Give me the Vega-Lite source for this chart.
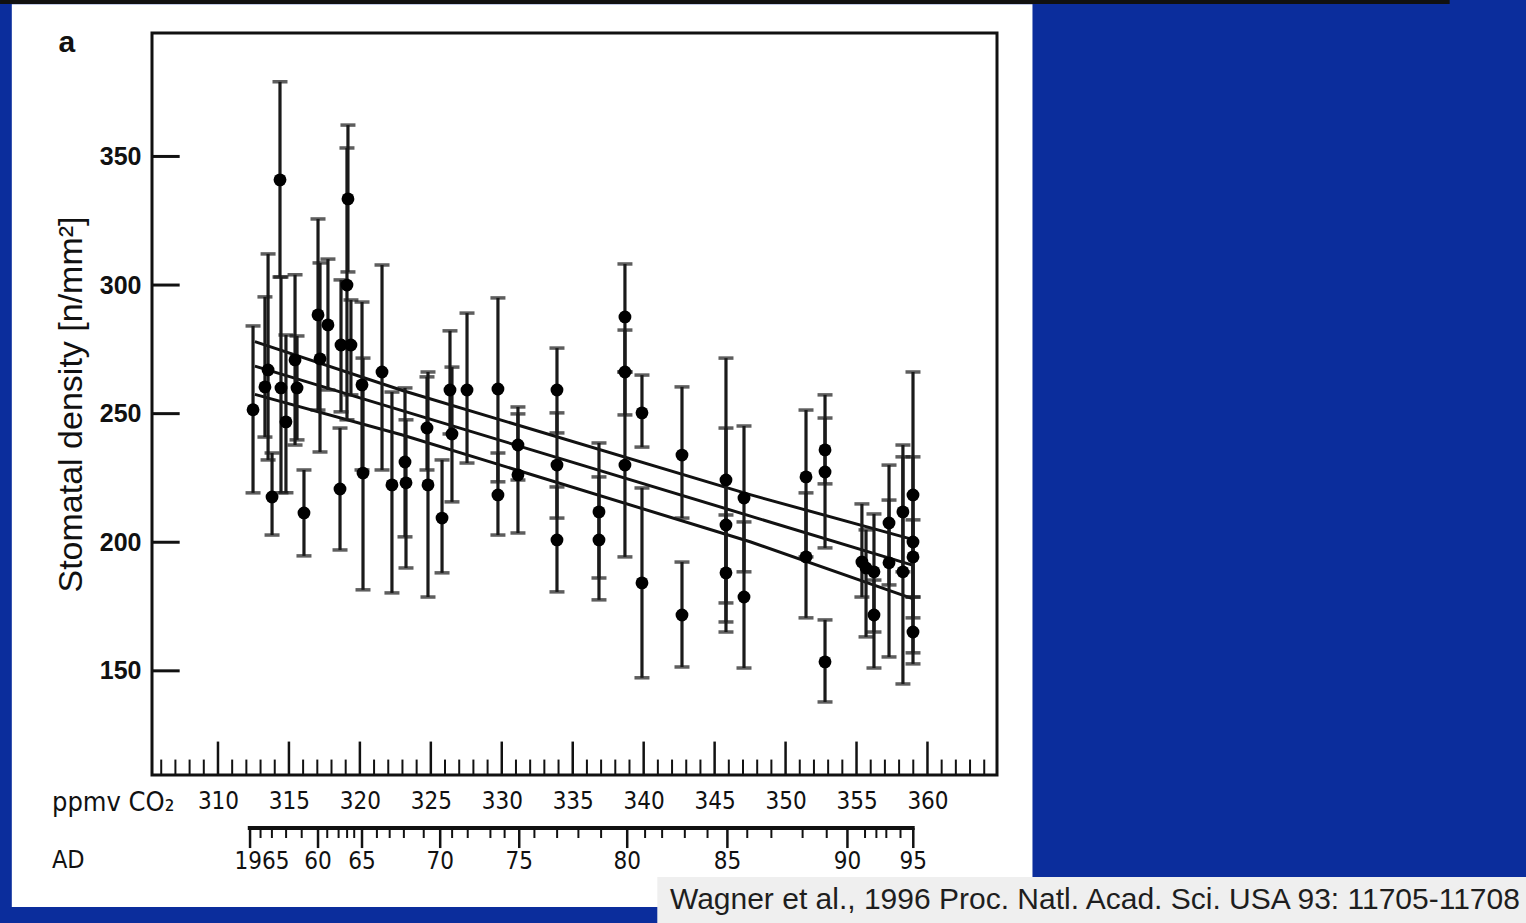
{
  "$schema": "https://vega.github.io/schema/vega-lite/v6.json",
  "width": 845,
  "height": 742,
  "autosize": {"type": "none"},
  "padding": {"left": 152, "top": 33, "right": 529, "bottom": 148},
  "background": "#0b2d9c",
  "config": {
    "view": {"stroke": null},
    "axis": {"grid": false, "ticks": false, "domain": false, "labelColor": "#111111", "labelFlush": false, "titleColor": "#111111"},
    "axisX": {"labelPadding": 14, "labelFontSize": 24, "labelFont": "Liberation Sans Narrow, DejaVu Sans Condensed, sans-serif"},
    "axisY": {"labelPadding": 11, "labelFontSize": 25, "labelFontWeight": "bold", "labelFont": "Liberation Sans", "titleFont": "Liberation Sans", "titleFontSize": 34, "titleFontWeight": "normal", "titlePadding": 11}
  },
  "datasets": {
    "points": [
      {"co2":312.47,"density":251.5,"low":219.2,"high":284.1},
      {"co2":313.31,"density":260.4,"low":240.9,"high":295.4},
      {"co2":313.53,"density":267.0,"low":232.0,"high":312.1},
      {"co2":313.81,"density":217.6,"low":202.8,"high":234.7},
      {"co2":314.37,"density":340.9,"low":303.1,"high":379.0},
      {"co2":314.44,"density":260.0,"low":219.2,"high":303.1},
      {"co2":314.79,"density":246.8,"low":219.2,"high":280.6},
      {"co2":315.43,"density":270.9,"low":237.8,"high":304.0},
      {"co2":315.57,"density":260.0,"low":239.8,"high":280.2},
      {"co2":316.06,"density":211.4,"low":194.7,"high":228.1},
      {"co2":317.05,"density":288.4,"low":251.4,"high":325.7},
      {"co2":317.19,"density":271.3,"low":235.1,"high":308.6},
      {"co2":317.75,"density":284.5,"low":259.2,"high":310.1},
      {"co2":318.60,"density":220.7,"low":197.0,"high":244.4},
      {"co2":319.16,"density":333.5,"low":305.1,"high":362.2},
      {"co2":319.09,"density":300.0,"low":247.6,"high":353.3},
      {"co2":318.67,"density":276.7,"low":250.7,"high":302.0},
      {"co2":319.37,"density":276.7,"low":257.3,"high":294.2},
      {"co2":320.15,"density":261.2,"low":228.1,"high":293.4},
      {"co2":320.22,"density":226.9,"low":181.5,"high":271.6},
      {"co2":321.56,"density":266.2,"low":228.1,"high":307.8},
      {"co2":322.26,"density":222.3,"low":180.3,"high":258.4},
      {"co2":323.18,"density":231.2,"low":202.1,"high":260.0},
      {"co2":323.25,"density":223.1,"low":190.0,"high":247.6},
      {"co2":324.73,"density":244.4,"low":228.1,"high":264.3},
      {"co2":324.80,"density":222.3,"low":178.7,"high":266.2},
      {"co2":325.79,"density":209.4,"low":188.1,"high":232.0},
      {"co2":326.35,"density":259.2,"low":242.1,"high":282.2},
      {"co2":326.49,"density":242.1,"low":215.7,"high":268.1},
      {"co2":327.55,"density":259.2,"low":230.8,"high":289.1},
      {"co2":329.73,"density":259.6,"low":223.5,"high":295.0},
      {"co2":329.73,"density":218.4,"low":202.8,"high":234.7},
      {"co2":331.14,"density":237.8,"low":224.2,"high":252.6},
      {"co2":331.14,"density":226.2,"low":203.6,"high":249.9},
      {"co2":333.89,"density":259.2,"low":242.5,"high":275.5},
      {"co2":333.89,"density":230.0,"low":209.4,"high":250.3},
      {"co2":333.89,"density":200.9,"low":180.7,"high":221.5},
      {"co2":336.85,"density":211.8,"low":186.1,"high":238.6},
      {"co2":336.85,"density":200.9,"low":177.6,"high":225.4},
      {"co2":338.68,"density":287.6,"low":266.2,"high":308.2},
      {"co2":338.68,"density":266.2,"low":249.5,"high":282.5},
      {"co2":338.68,"density":230.0,"low":194.3,"high":266.2},
      {"co2":339.88,"density":250.3,"low":237.0,"high":265.0},
      {"co2":339.88,"density":184.2,"low":147.3,"high":221.1},
      {"co2":342.70,"density":233.9,"low":209.4,"high":260.4},
      {"co2":342.70,"density":171.7,"low":151.5,"high":192.3},
      {"co2":345.80,"density":224.2,"low":176.4,"high":271.6},
      {"co2":345.80,"density":206.7,"low":169.0,"high":244.4},
      {"co2":345.80,"density":188.1,"low":165.1,"high":210.6},
      {"co2":347.07,"density":217.2,"low":188.5,"high":245.2},
      {"co2":347.07,"density":178.7,"low":151.1,"high":207.9},
      {"co2":351.44,"density":225.4,"low":194.3,"high":251.4},
      {"co2":351.44,"density":194.3,"low":170.6,"high":219.2},
      {"co2":352.78,"density":235.9,"low":222.7,"high":257.3},
      {"co2":352.78,"density":227.3,"low":197.8,"high":248.3},
      {"co2":352.78,"density":153.5,"low":137.9,"high":169.8},
      {"co2":355.38,"density":192.3,"low":178.7,"high":214.9},
      {"co2":355.67,"density":190.0,"low":163.2,"high":204.8},
      {"co2":356.23,"density":188.5,"low":165.1,"high":211.0},
      {"co2":356.23,"density":171.7,"low":151.1,"high":185.3},
      {"co2":357.29,"density":207.5,"low":183.4,"high":230.0},
      {"co2":357.29,"density":192.0,"low":155.4,"high":216.4},
      {"co2":358.27,"density":211.8,"low":188.5,"high":237.8},
      {"co2":358.27,"density":188.5,"low":144.9,"high":233.2},
      {"co2":358.98,"density":218.4,"low":170.6,"high":266.2},
      {"co2":358.98,"density":200.1,"low":157.0,"high":233.2},
      {"co2":358.98,"density":194.3,"low":178.7,"high":208.7},
      {"co2":358.98,"density":165.1,"low":152.7,"high":178.7}
    ],
    "lines": [
      {"line":"upper","co2":312.6,"density":278.0},
      {"line":"upper","co2":323.0,"density":259.0},
      {"line":"upper","co2":347.5,"density":218.5},
      {"line":"upper","co2":359.0,"density":201.0},
      {"line":"fit","co2":312.6,"density":268.5},
      {"line":"fit","co2":359.0,"density":191.0},
      {"line":"lower","co2":312.6,"density":257.5},
      {"line":"lower","co2":323.0,"density":241.7},
      {"line":"lower","co2":347.5,"density":200.2},
      {"line":"lower","co2":359.0,"density":178.0}
    ],
    "xmajor": [{"co2":310},{"co2":315},{"co2":320},{"co2":325},{"co2":330},{"co2":335},{"co2":340},{"co2":345},{"co2":350},{"co2":355},{"co2":360}],
    "xminor": [{"co2":306},{"co2":307},{"co2":308},{"co2":309},{"co2":311},{"co2":312},{"co2":313},{"co2":314},{"co2":316},{"co2":317},{"co2":318},{"co2":319},{"co2":321},{"co2":322},{"co2":323},{"co2":324},{"co2":326},{"co2":327},{"co2":328},{"co2":329},{"co2":331},{"co2":332},{"co2":333},{"co2":334},{"co2":336},{"co2":337},{"co2":338},{"co2":339},{"co2":341},{"co2":342},{"co2":343},{"co2":344},{"co2":346},{"co2":347},{"co2":348},{"co2":349},{"co2":351},{"co2":352},{"co2":353},{"co2":354},{"co2":356},{"co2":357},{"co2":358},{"co2":359},{"co2":361},{"co2":362},{"co2":363},{"co2":364}],
    "yticks": [{"density":150},{"density":200},{"density":250},{"density":300},{"density":350}],
    "admajor": [{"year":1955,"co2":312.26},{"year":1960,"co2":317.05},{"year":1965,"co2":320.15},{"year":1970,"co2":325.66},{"year":1975,"co2":331.23},{"year":1980,"co2":338.84},{"year":1985,"co2":345.9},{"year":1990,"co2":354.36},{"year":1995,"co2":359.0}],
    "adminor": [{"year":1956,"co2":313.0},{"year":1957,"co2":313.8},{"year":1958,"co2":314.8},{"year":1959,"co2":315.9},{"year":1961,"co2":317.7},{"year":1962,"co2":318.5},{"year":1963,"co2":319.1},{"year":1964,"co2":319.6},{"year":1966,"co2":321.2},{"year":1967,"co2":322.1},{"year":1968,"co2":323.1},{"year":1969,"co2":324.5},{"year":1971,"co2":326.5},{"year":1972,"co2":327.6},{"year":1973,"co2":329.2},{"year":1974,"co2":330.2},{"year":1976,"co2":332.3},{"year":1977,"co2":333.9},{"year":1978,"co2":335.4},{"year":1979,"co2":337.0},{"year":1981,"co2":340.1},{"year":1982,"co2":341.3},{"year":1983,"co2":342.9},{"year":1984,"co2":344.5},{"year":1986,"co2":347.3},{"year":1987,"co2":349.0},{"year":1988,"co2":351.2},{"year":1989,"co2":352.9},{"year":1991,"co2":355.6},{"year":1992,"co2":356.4},{"year":1993,"co2":357.1},{"year":1994,"co2":358.1}],
    "adlabels": [{"label":"1965","co2":313.1},{"label":"60","co2":317.05},{"label":"65","co2":320.15},{"label":"70","co2":325.66},{"label":"75","co2":331.23},{"label":"80","co2":338.84},{"label":"85","co2":345.9},{"label":"90","co2":354.36},{"label":"95","co2":359.0}]
  },
  "layer": [
    {
      "data": {"values": [{}]},
      "mark": {"type": "rect", "fill": "white"},
      "encoding": {
        "x": {"datum": 295.47, "type": "quantitative", "scale": {"domain": [305.35, 364.9], "nice": false, "zero": false}},
        "x2": {"datum": 367.4},
        "y": {"datum": 58.2, "type": "quantitative", "scale": {"domain": [109.5, 398], "nice": false, "zero": false}},
        "y2": {"datum": 409.2}
      }
    },
    {
      "data": {"values": [{}]},
      "mark": {"type": "rect", "fill": "#111111"},
      "encoding": {
        "x": {"datum": 294.64, "type": "quantitative"},
        "x2": {"datum": 396.8},
        "y": {"datum": 409.3, "type": "quantitative"},
        "y2": {"datum": 410.85}
      }
    },
    {
      "data": {"values": [{}]},
      "mark": {"type": "rect", "fill": "#efefef"},
      "encoding": {
        "x": {"datum": 340.96, "type": "quantitative"},
        "x2": {"datum": 402.3},
        "y": {"datum": 51.9, "type": "quantitative"},
        "y2": {"datum": 69.8}
      }
    },
    {
      "data": {"values": [{}]},
      "mark": {"type": "text", "text": "Wagner et al., 1996 Proc. Natl. Acad. Sci. USA 93: 11705-11708", "font": "Liberation Sans", "fontSize": 30, "color": "#1e1e1e", "align": "left", "baseline": "middle"},
      "encoding": {
        "x": {"datum": 341.85, "type": "quantitative"},
        "y": {"datum": 60.9, "type": "quantitative"}
      }
    },
    {
      "data": {"values": [{}]},
      "mark": {"type": "rect", "fillOpacity": 0, "stroke": "#111111", "strokeWidth": 3},
      "encoding": {
        "x": {"datum": 305.35, "type": "quantitative"},
        "x2": {"datum": 364.9},
        "y": {"datum": 109.5, "type": "quantitative"},
        "y2": {"datum": 398}
      }
    },
    {
      "data": {"name": "xminor"},
      "mark": {"type": "rule", "color": "#111111", "strokeWidth": 2},
      "encoding": {
        "x": {"field": "co2", "type": "quantitative"},
        "y": {"datum": 109.5, "type": "quantitative"},
        "y2": {"datum": 115.5}
      }
    },
    {
      "data": {"name": "xmajor"},
      "mark": {"type": "rule", "color": "#111111", "strokeWidth": 2.5},
      "encoding": {
        "x": {"field": "co2", "type": "quantitative"},
        "y": {"datum": 109.5, "type": "quantitative"},
        "y2": {"datum": 122.5}
      }
    },
    {
      "data": {"name": "yticks"},
      "mark": {"type": "rule", "color": "#111111", "strokeWidth": 3},
      "encoding": {
        "y": {"field": "density", "type": "quantitative"},
        "x": {"datum": 305.35, "type": "quantitative"},
        "x2": {"datum": 307.3}
      }
    },
    {
      "data": {"name": "lines"},
      "mark": {"type": "line", "color": "#111111", "strokeWidth": 3},
      "encoding": {
        "x": {"field": "co2", "type": "quantitative"},
        "y": {"field": "density", "type": "quantitative"},
        "detail": {"field": "line"}
      }
    },
    {
      "data": {"name": "points"},
      "mark": {"type": "rule", "color": "#1a1a1a", "strokeWidth": 3.2},
      "encoding": {
        "x": {"field": "co2", "type": "quantitative"},
        "y": {"field": "low", "type": "quantitative"},
        "y2": {"field": "high"}
      }
    },
    {
      "data": {"name": "points"},
      "mark": {"type": "tick", "orient": "horizontal", "color": "#1a1a1a", "size": 15, "thickness": 3.5},
      "encoding": {
        "x": {"field": "co2", "type": "quantitative"},
        "y": {"field": "low", "type": "quantitative"}
      }
    },
    {
      "data": {"name": "points"},
      "mark": {"type": "tick", "orient": "horizontal", "color": "#1a1a1a", "size": 15, "thickness": 3.5},
      "encoding": {
        "x": {"field": "co2", "type": "quantitative"},
        "y": {"field": "high", "type": "quantitative"}
      }
    },
    {
      "data": {"name": "points"},
      "mark": {"type": "circle", "color": "#000000", "size": 165, "opacity": 1},
      "encoding": {
        "x": {"field": "co2", "type": "quantitative", "axis": {"orient": "bottom", "zindex": 2, "values": [310,315,320,325,330,335,340,345,350,355,360], "title": null}},
        "y": {"field": "density", "type": "quantitative", "axis": {"orient": "left", "zindex": 2, "values": [150,200,250,300,350], "title": "Stomatal density [n/mm²]"}}
      }
    },
    {
      "data": {"values": [{}]},
      "mark": {"type": "text", "text": "a", "font": "Liberation Sans", "fontSize": 30, "fontWeight": "bold", "color": "#111111", "align": "center", "baseline": "middle"},
      "encoding": {
        "x": {"datum": 299.35, "type": "quantitative"},
        "y": {"datum": 394.1, "type": "quantitative"}
      }
    },
    {
      "data": {"values": [{}]},
      "mark": {"type": "text", "text": "ppmv CO₂", "font": "Liberation Sans Narrow, DejaVu Sans Condensed, sans-serif", "fontSize": 27, "color": "#111111", "align": "left", "baseline": "middle"},
      "encoding": {
        "x": {"datum": 298.3, "type": "quantitative"},
        "y": {"datum": 98.6, "type": "quantitative"}
      }
    },
    {
      "data": {"values": [{}]},
      "mark": {"type": "text", "text": "AD", "font": "Liberation Sans Narrow, DejaVu Sans Condensed, sans-serif", "fontSize": 25, "color": "#111111", "align": "left", "baseline": "middle"},
      "encoding": {
        "x": {"datum": 298.3, "type": "quantitative"},
        "y": {"datum": 76.5, "type": "quantitative"}
      }
    },
    {
      "data": {"values": [{}]},
      "mark": {"type": "rule", "color": "#111111", "strokeWidth": 4},
      "encoding": {
        "x": {"datum": 312.1, "type": "quantitative"},
        "x2": {"datum": 359.1},
        "y": {"datum": 88.9, "type": "quantitative"}
      }
    },
    {
      "data": {"name": "adminor"},
      "mark": {"type": "rule", "color": "#111111", "strokeWidth": 2},
      "encoding": {
        "x": {"field": "co2", "type": "quantitative"},
        "y": {"datum": 88.9, "type": "quantitative"},
        "y2": {"datum": 85.0}
      }
    },
    {
      "data": {"name": "admajor"},
      "mark": {"type": "rule", "color": "#111111", "strokeWidth": 2.5},
      "encoding": {
        "x": {"field": "co2", "type": "quantitative"},
        "y": {"datum": 88.9, "type": "quantitative"},
        "y2": {"datum": 81.1}
      }
    },
    {
      "data": {"name": "adlabels"},
      "mark": {"type": "text", "font": "Liberation Sans Narrow, DejaVu Sans Condensed, sans-serif", "fontSize": 24, "color": "#111111", "align": "center", "baseline": "middle"},
      "encoding": {
        "x": {"field": "co2", "type": "quantitative"},
        "y": {"datum": 75.7, "type": "quantitative"},
        "text": {"field": "label"}
      }
    }
  ]
}
